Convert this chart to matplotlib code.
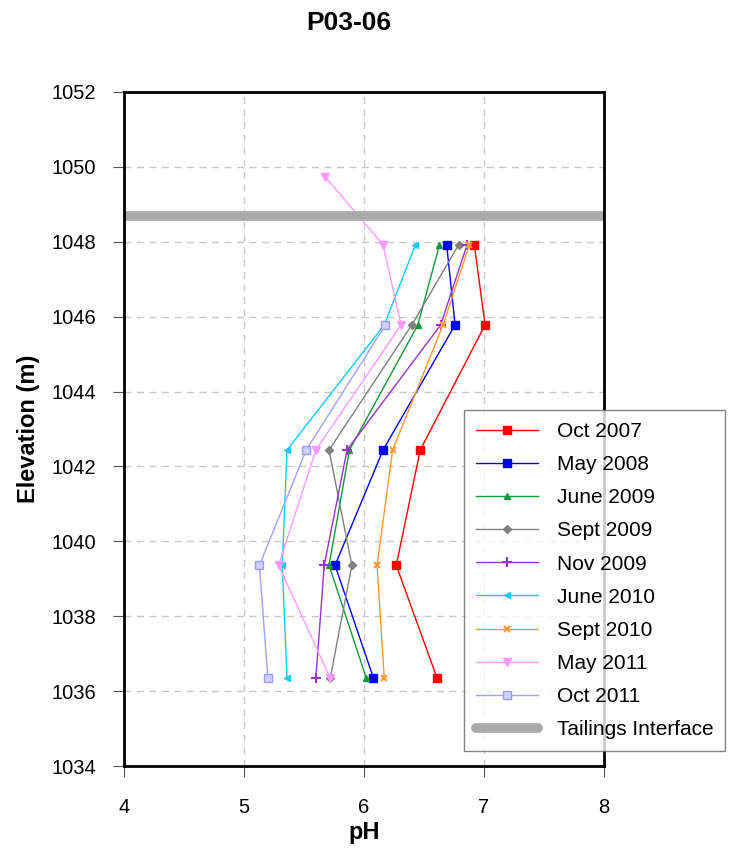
import numpy as np
import matplotlib
matplotlib.use('Agg')
import matplotlib.pyplot as plt

plt.rcParams['font.family'] = ['Liberation Sans', 'DejaVu Sans']

# sample elevations (m)
elev = [1047.92, 1045.78, 1042.44, 1039.36, 1036.35]

oct2007 = [6.92, 7.01, 6.47, 6.27, 6.61]
may2008 = [6.69, 6.76, 6.16, 5.76, 6.08]
jun2009 = [6.63, 6.45, 5.88, 5.71, 6.02]
sep2009 = [6.79, 6.40, 5.71, 5.90, 5.72]
nov2009 = [6.86, 6.64, 5.86, 5.67, 5.60]
jun2010 = [6.43, 6.17, 5.36, 5.32, 5.36]
sep2010 = [6.88, 6.66, 6.24, 6.11, 6.17]
may2011_elev = [1049.73, 1047.92, 1045.78, 1042.44, 1039.36, 1036.35]
may2011 = [5.68, 6.16, 6.31, 5.60, 5.29, 5.72]
oct2011_elev = [1045.78, 1042.44, 1039.36, 1036.35]
oct2011 = [6.18, 5.52, 5.13, 5.20]

tailings = 1048.7

fig = plt.figure(figsize=(7.37, 8.5), dpi=100)
ax = fig.add_axes([0.168, 0.0988, 0.6514, 0.793])

ax.plot(oct2007, elev, color='#ff0000', marker='s', ms=6, lw=1, label='Oct 2007')
ax.plot(may2008, elev, color='#0000ff', marker='s', ms=6, lw=1, label='May 2008')
ax.plot(jun2009, elev, color='#129a3a', marker='^', ms=5, lw=1, label='June 2009')
ax.plot(sep2009, elev, color='#808080', marker='D', ms=4, lw=1, label='Sept 2009')
ax.plot(nov2009, elev, color='#9933cc', marker='+', ms=7, mew=1.5, lw=1, label='Nov 2009')
ax.plot(jun2010, elev, color='#11ccff', marker='<', ms=5, lw=1, label='June 2010')
ax.plot(sep2010, elev, color='#ff9933', marker='x', ms=5, mew=1.5, lw=1, label='Sept 2010')
ax.plot(may2011, may2011_elev, color='#ff99ff', marker='v', ms=6, lw=1, label='May 2011')
ax.plot(oct2011, oct2011_elev, color='#a0a0ff', marker='s', ms=6, mfc='#d0d0ff',
        mec='#9999ff', lw=1, label='Oct 2011')
ax.axhline(tailings, color='#aaaaaa', lw=7, solid_capstyle='round', label='Tailings Interface')

ax.set_xlim(4, 8)
ax.set_ylim(1034, 1052)
ax.set_xticks(np.arange(4, 9, 1))
ax.set_yticks(np.arange(1034, 1053, 2))
ax.grid(True, ls=(0, (5, 4)), color='#c8c8c8', lw=1)
ax.tick_params(labelsize=14.5, direction='out', length=8, color='#555555')
ax.tick_params(axis='x', pad=15)
ax.tick_params(axis='y', pad=12)
for s in ax.spines.values():
    s.set_linewidth(2)

ax.set_xlabel('pH', fontsize=17, fontweight='bold', labelpad=3)
ax.set_ylabel('Elevation (m)', fontsize=17, fontweight='bold', labelpad=8)
fig.text(0.4735, 0.973, 'P03-06', ha='center', va='center', fontsize=19, fontweight='bold')

leg = fig.legend(loc='upper left', bbox_to_anchor=(0.616, 0.5294), fontsize=15,
                 frameon=True, fancybox=False, edgecolor='#666666', handlelength=3.0,
                 labelspacing=0.68, borderpad=0.55, handletextpad=0.9)
leg.get_frame().set_linewidth(1)

fig.savefig('out.png', dpi=100)
